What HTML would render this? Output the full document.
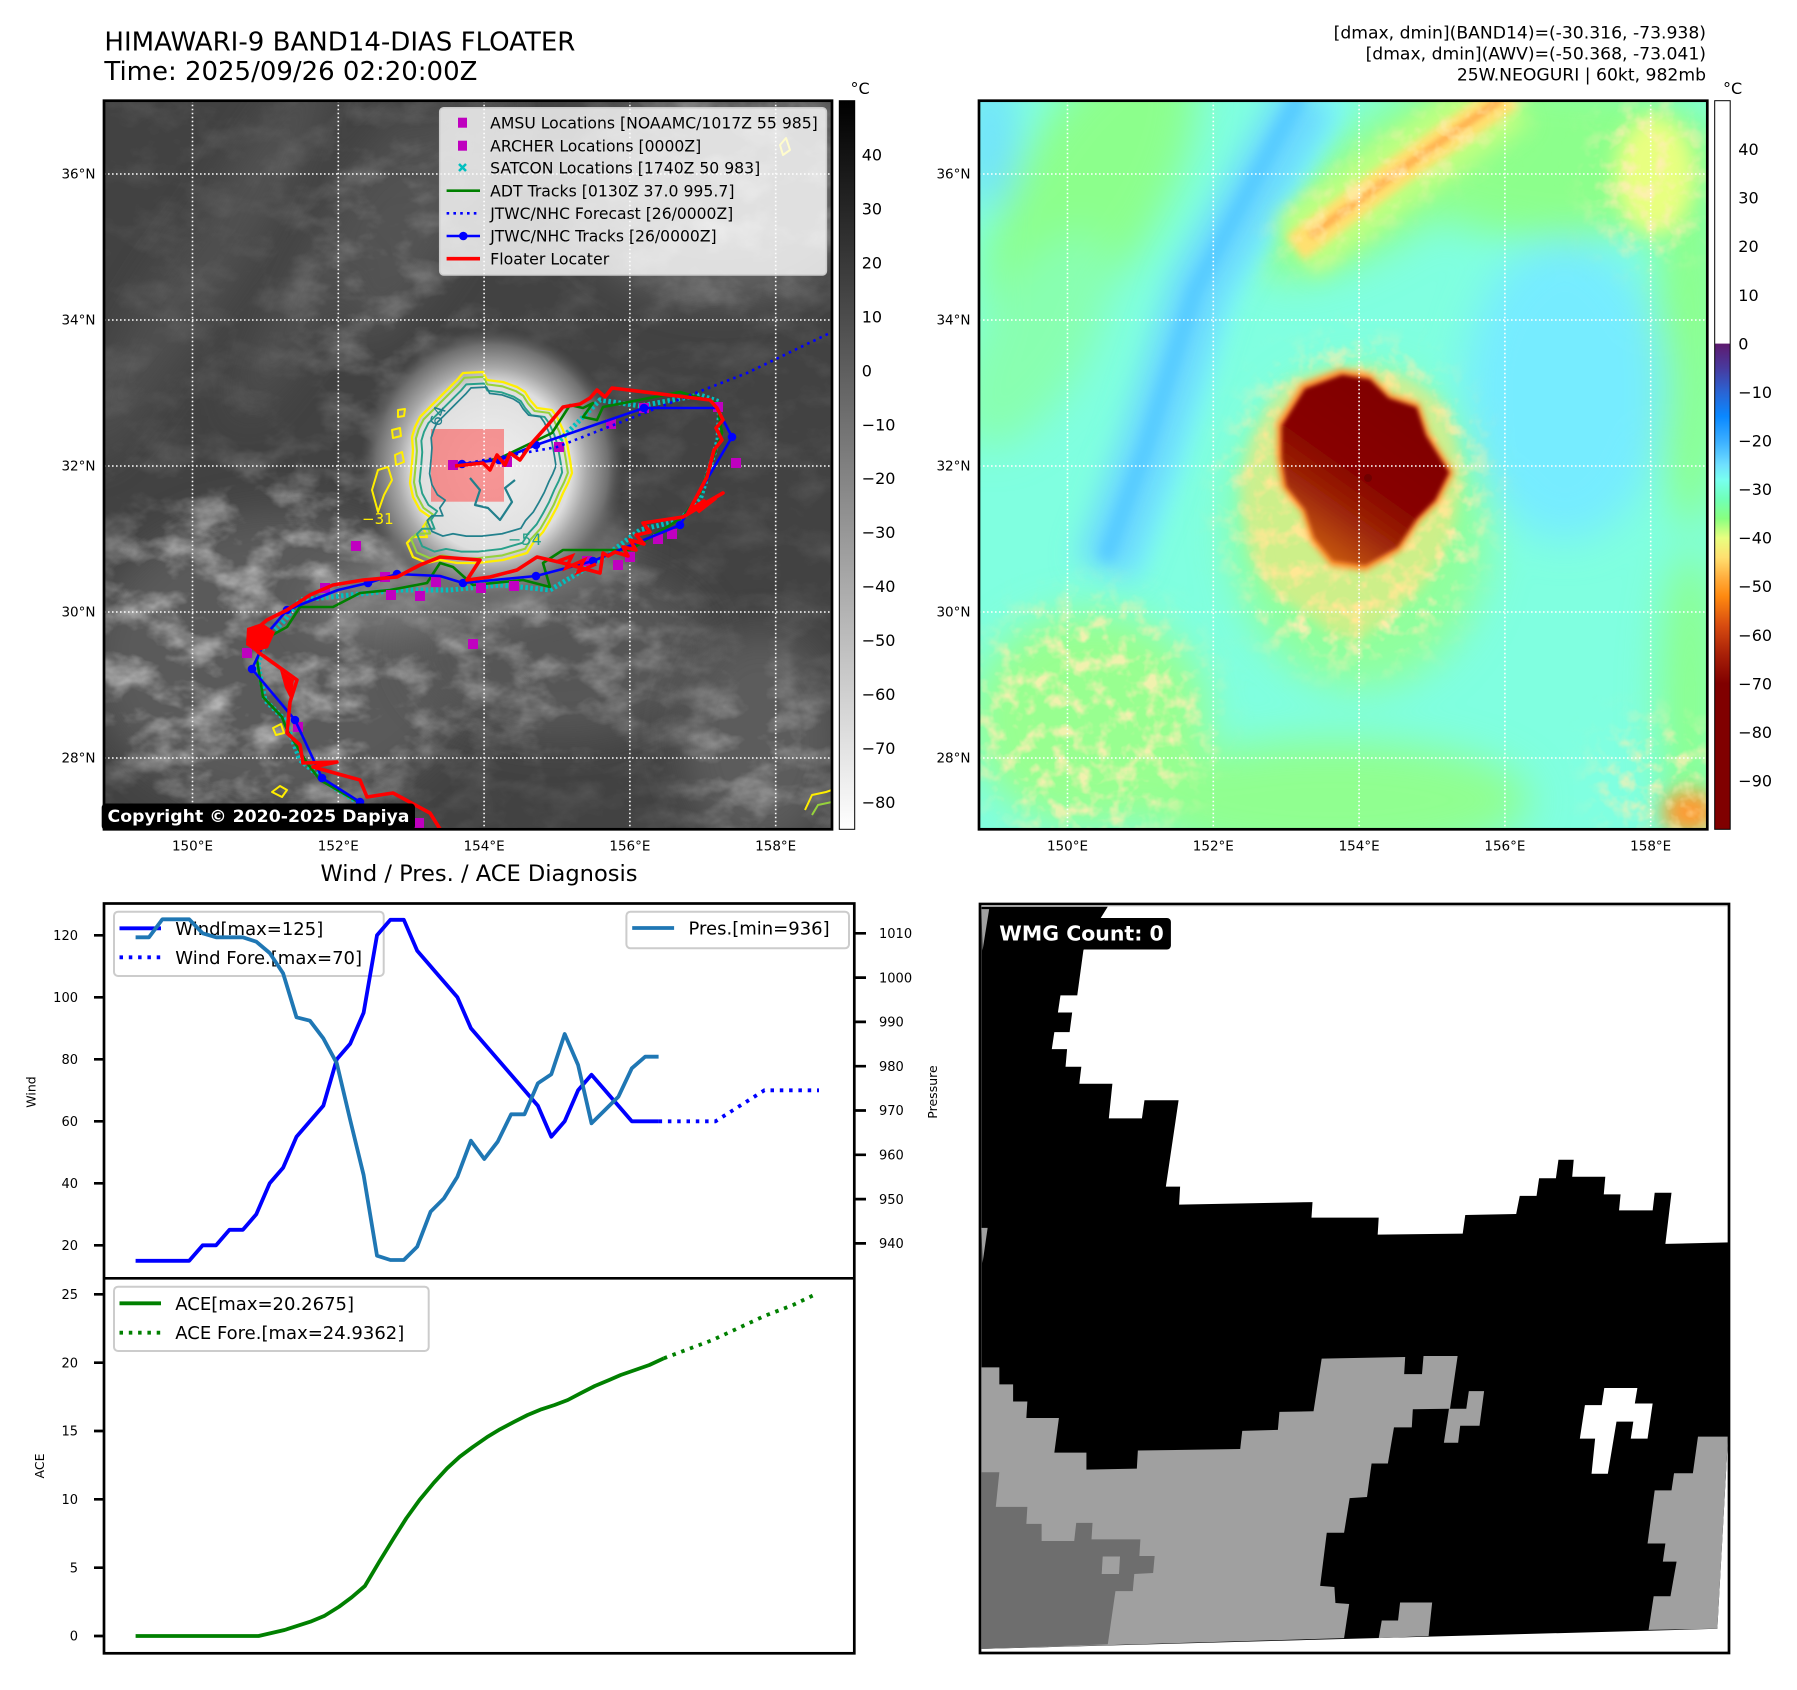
<!DOCTYPE html>
<html><head><meta charset="utf-8">
<style>
html,body{margin:0;padding:0;background:#fff;}
svg{display:block;}
text{font-family:"DejaVu Sans","Liberation Sans",sans-serif;fill:#000;}
</style></head>
<body>
<svg width="1797" height="1690" viewBox="0 0 1797 1690" xmlns="http://www.w3.org/2000/svg">
<defs>
 <clipPath id="cL"><rect x="104" y="100.7" width="728" height="728.6"/></clipPath>
 <clipPath id="cR"><rect x="979" y="100.7" width="728.3" height="728.6"/></clipPath>
 <filter id="b2" x="-50%" y="-50%" width="200%" height="200%"><feGaussianBlur stdDeviation="2"/></filter>
 <filter id="b3" x="-50%" y="-50%" width="200%" height="200%"><feGaussianBlur stdDeviation="3"/></filter>
 <filter id="b4" x="-50%" y="-50%" width="200%" height="200%"><feGaussianBlur stdDeviation="4"/></filter>
 <filter id="b6" x="-50%" y="-50%" width="200%" height="200%"><feGaussianBlur stdDeviation="6"/></filter>
 <filter id="b10" x="-50%" y="-50%" width="200%" height="200%"><feGaussianBlur stdDeviation="10"/></filter>
 <filter id="b14" x="-50%" y="-50%" width="200%" height="200%"><feGaussianBlur stdDeviation="14"/></filter>
 <filter id="b20" x="-50%" y="-50%" width="200%" height="200%"><feGaussianBlur stdDeviation="20"/></filter>
 <filter id="b30" x="-50%" y="-50%" width="200%" height="200%"><feGaussianBlur stdDeviation="30"/></filter>
 <filter id="nzL" filterUnits="userSpaceOnUse" x="104" y="100" width="728" height="730">
  <feTurbulence type="fractalNoise" baseFrequency="0.022 0.032" numOctaves="4" seed="11"/>
  <feColorMatrix type="matrix" values="0 0 0 0 0.72  0 0 0 0 0.72  0 0 0 0 0.72  1.6 0 0 0 -0.68"/>
 </filter>
 <filter id="nzR" filterUnits="userSpaceOnUse" x="979" y="100" width="729" height="730">
  <feTurbulence type="fractalNoise" baseFrequency="0.055" numOctaves="3" seed="5"/>
  <feColorMatrix type="matrix" values="0 0 0 0 1  0 0 0 0 0.86  0 0 0 0 0.45  3.2 0 0 0 -1.45"/>
 </filter>
 <mask id="mkL" maskUnits="userSpaceOnUse" x="104" y="100" width="728" height="730">
  <rect x="104" y="100" width="728" height="730" fill="#262626"/>
  <g filter="url(#b30)">
   <ellipse cx="270" cy="650" rx="190" ry="170" fill="#fff"/>
   <ellipse cx="520" cy="640" rx="160" ry="100" fill="#bbb"/>
   <ellipse cx="720" cy="180" rx="140" ry="100" fill="#999"/>
   <ellipse cx="760" cy="760" rx="80" ry="90" fill="#bbb"/>
   <ellipse cx="380" cy="300" rx="80" ry="160" fill="#666"/>
  </g>
 </mask>
 <mask id="mkR" maskUnits="userSpaceOnUse" x="979" y="100" width="729" height="730">
  <g filter="url(#b20)">
   <ellipse cx="1356" cy="500" rx="125" ry="150" fill="#fff"/>
   <ellipse cx="1350" cy="610" rx="90" ry="50" fill="#fff"/>
   <ellipse cx="1090" cy="720" rx="120" ry="120" fill="#ddd"/>
   <ellipse cx="1660" cy="780" rx="60" ry="60" fill="#ccc"/>
   <ellipse cx="1400" cy="170" rx="150" ry="25" transform="rotate(-35 1400 170)" fill="#ddd"/>
   <ellipse cx="1650" cy="180" rx="55" ry="80" fill="#ddd"/>
  </g>
 </mask>
 <linearGradient id="gGray" x1="0" y1="0" x2="0" y2="1">
  <stop offset="0" stop-color="#000"/><stop offset="1" stop-color="#fff"/>
 </linearGradient>
 <linearGradient id="gAWV" x1="0" y1="0" x2="0" y2="1">
  <stop offset="0" stop-color="#5e1a6e"/>
  <stop offset="0.05" stop-color="#483a9e"/>
  <stop offset="0.10" stop-color="#2a64d4"/>
  <stop offset="0.15" stop-color="#0a88ff"/>
  <stop offset="0.20" stop-color="#3aaeff"/>
  <stop offset="0.25" stop-color="#70e0ff"/>
  <stop offset="0.28" stop-color="#78fff0"/>
  <stop offset="0.32" stop-color="#70ffb8"/>
  <stop offset="0.36" stop-color="#88ff80"/>
  <stop offset="0.40" stop-color="#e8ff80"/>
  <stop offset="0.44" stop-color="#ffe070"/>
  <stop offset="0.48" stop-color="#ffb040"/>
  <stop offset="0.52" stop-color="#ff8a10"/>
  <stop offset="0.58" stop-color="#d84c10"/>
  <stop offset="0.64" stop-color="#a82008"/>
  <stop offset="0.70" stop-color="#800000"/>
  <stop offset="1" stop-color="#800000"/>
 </linearGradient>
 <radialGradient id="gStorm" cx="0.5" cy="0.5" r="0.5">
  <stop offset="0" stop-color="#f0f0f0"/>
  <stop offset="0.6" stop-color="#dedede"/>
  <stop offset="0.72" stop-color="#a8a8a8"/>
  <stop offset="0.88" stop-color="#707070"/>
  <stop offset="1" stop-color="#555" stop-opacity="0"/>
 </radialGradient>
 <linearGradient id="gCore" x1="0.75" y1="0.15" x2="0.25" y2="0.95">
  <stop offset="0" stop-color="#800000"/>
  <stop offset="0.5" stop-color="#880400"/>
  <stop offset="0.75" stop-color="#a02a08"/>
  <stop offset="1" stop-color="#c85a10"/>
 </linearGradient>
</defs>

<!-- ===== Titles ===== -->
<text x="104.4" y="50.7" font-size="25.7" textLength="471" lengthAdjust="spacingAndGlyphs">HIMAWARI-9 BAND14-DIAS FLOATER</text>
<text x="104.4" y="80" font-size="25.7" textLength="373" lengthAdjust="spacingAndGlyphs">Time: 2025/09/26 02:20:00Z</text>
<text x="1706" y="38.5" font-size="17.2" text-anchor="end">[dmax, dmin](BAND14)=(-30.316, -73.938)</text>
<text x="1706" y="59.5" font-size="17.2" text-anchor="end">[dmax, dmin](AWV)=(-50.368, -73.041)</text>
<text x="1706" y="80.5" font-size="17.2" text-anchor="end">25W.NEOGURI | 60kt, 982mb</text>

<!-- ===== Left map (IR) ===== -->
<g clip-path="url(#cL)">
 <rect x="104" y="100.7" width="728" height="728.6" fill="#424242"/>
 <g filter="url(#b20)" opacity="0.7">
  <ellipse cx="230" cy="230" rx="30" ry="200" transform="rotate(30 230 230)" fill="#5a5a5a"/>
  <ellipse cx="330" cy="260" rx="25" ry="180" transform="rotate(30 330 260)" fill="#585858"/>
  <ellipse cx="430" cy="210" rx="40" ry="150" transform="rotate(30 430 210)" fill="#5c5c5c"/>
  <ellipse cx="160" cy="330" rx="30" ry="150" transform="rotate(30 160 330)" fill="#545454"/>
 </g>
 <ellipse cx="720" cy="190" rx="150" ry="110" fill="#646464" filter="url(#b20)"/>
 <ellipse cx="280" cy="660" rx="190" ry="150" fill="#5a5a5a" filter="url(#b20)"/>
 <ellipse cx="560" cy="650" rx="150" ry="90" fill="#565656" filter="url(#b20)"/>
 <ellipse cx="760" cy="740" rx="80" ry="110" fill="#5c5c5c" filter="url(#b20)"/>
 <rect x="104" y="100" width="728" height="730" filter="url(#nzL)" mask="url(#mkL)"/>
 <ellipse cx="470" cy="578" rx="165" ry="40" transform="rotate(-12 470 578)" fill="#888" filter="url(#b20)" opacity="0.7"/>
 <ellipse cx="492" cy="468" rx="132" ry="140" fill="url(#gStorm)"/>
 <!-- floater rect -->
 <rect x="431" y="429" width="73" height="72.7" fill="#ff3c3c" fill-opacity="0.5"/>
 <!-- contours -->
 <g fill="none" stroke-linejoin="round">
  <path d="M463,373 L483,372 L487,380 L503,382 L517,387 L525,392 L530,400 L537,408 L552,410 L557,417 L563,430 L567,443 L570,460 L572,473 L568,483 L563,493 L557,507 L550,520 L543,532 L533,543 L527,553 L503,560 L477,563 L457,563 L440,560 L427,563 L413,557 L407,543 L413,537 L427,537 L423,527 L430,517 L420,510 L413,497 L410,483 L412,463 L413,450 L412,437 L415,427 L420,417 L430,407 L440,397 L450,387 L457,380 Z" stroke="#ffee00" stroke-width="2.3"/>
  <g transform="translate(490 468) scale(0.95) translate(-490 -468)"><path d="M463,373 L483,372 L487,380 L503,382 L517,387 L525,392 L530,400 L537,408 L552,410 L557,417 L563,430 L567,443 L570,460 L572,473 L568,483 L563,493 L557,507 L550,520 L543,532 L533,543 L527,553 L503,560 L477,563 L457,563 L440,560 L427,563 L413,557 L407,543 L413,537 L427,537 L423,527 L430,517 L420,510 L413,497 L410,483 L412,463 L413,450 L412,437 L415,427 L420,417 L430,407 L440,397 L450,387 L457,380 Z" stroke="#96d23c" stroke-width="2.2"/></g>
  <g transform="translate(490 468) scale(0.88) translate(-490 -468)"><path d="M463,373 L483,372 L487,380 L503,382 L517,387 L525,392 L530,400 L537,408 L552,410 L557,417 L563,430 L567,443 L570,460 L572,473 L568,483 L563,493 L557,507 L550,520 L543,532 L533,543 L527,553 L503,560 L477,563 L457,563 L440,560 L427,563 L413,557 L407,543 L413,537 L427,537 L423,527 L430,517 L420,510 L413,497 L410,483 L412,463 L413,450 L412,437 L415,427 L420,417 L430,407 L440,397 L450,387 L457,380 Z" stroke="#28a08a" stroke-width="2.2"/></g>
  <g transform="translate(492 462) scale(0.78) translate(-490 -468)"><path d="M463,373 L483,372 L487,380 L503,382 L517,387 L525,392 L530,400 L537,408 L552,410 L557,417 L563,430 L567,443 L570,460 L572,473 L568,483 L563,493 L557,507 L550,520 L543,532 L533,543 L527,553 L503,560 L477,563 L457,563 L440,560 L427,563 L413,557 L407,543 L413,537 L427,537 L423,527 L430,517 L420,510 L413,497 L410,483 L412,463 L413,450 L412,437 L415,427 L420,417 L430,407 L440,397 L450,387 L457,380 Z" stroke="#22808c" stroke-width="2.2"/></g>
  <path d="M470,478 L480,490 L475,505 L488,508 L500,520 L512,502 L505,488 L515,480" stroke="#22808c" stroke-width="2.2"/>
  <path d="M378,470 L388,467 L392,480 L384,495 L378,512 L372,490 Z" stroke="#ffee00" stroke-width="2"/>
  <path d="M395,455 L402,452 L404,462 L396,465 Z M392,430 L400,428 L401,436 L393,438 Z M398,410 L405,409 L404,416 L398,417 Z" stroke="#ffee00" stroke-width="2"/>
  <path d="M780,145 L786,138 L790,150 L783,155 Z" stroke="#ffee00" stroke-width="2"/>
  <path d="M805,810 L812,795 L826,792 L832,790" stroke="#ffee00" stroke-width="2"/>
  <path d="M812,815 L818,805 L832,802" stroke="#96d23c" stroke-width="2"/>
  <path d="M272,792 L280,786 L287,790 L282,797 Z" stroke="#ffee00" stroke-width="2"/>
  <path d="M273,728 L281,724 L284,733 L276,735 Z" stroke="#ffee00" stroke-width="2"/>
 </g>
 <text x="508" y="545" font-size="16" style="fill:#28a08a">−54</text>
 <text x="0" y="0" font-size="16" style="fill:#22808c" transform="translate(436 440) rotate(-72)">−64</text>
 <text x="362" y="524" font-size="15" style="fill:#ffee00">−31</text>
 <!-- grid -->
 <g stroke="#fff" stroke-width="1.6" stroke-dasharray="1.6 2.4" fill="none">
  <path d="M192.5,100.7V829.3M338.3,100.7V829.3M484.1,100.7V829.3M629.9,100.7V829.3M775.7,100.7V829.3"/>
  <path d="M104,174H832M104,320H832M104,466H832M104,612H832M104,758H832"/>
 </g>
 <!-- SATCON cyan -->
 <path d="M560,440 L600,400 L640,406 L700,395 L720,402 L718,440 L700,500 L680,520 L640,530 L600,560 L550,590 L500,585 L450,590 L400,590 L350,595 L300,600 L285,620 L265,640 L258,665 L265,700 L285,720 L300,760 L330,785 L370,810 L400,829" fill="none" stroke="#00c0c0" stroke-width="5" stroke-dasharray="2.5 2.5"/>
 <!-- ADT green -->
 <path d="M462,466 L500,458 L552,433 L570,405 L583,408 L593,403 L583,417 L597,420 L603,407 L680,392 L697,397 L717,403 L722,433 L700,493 L683,517 L630,550 L563,550 L543,563 L550,587 L523,580 L473,585 L453,567 L440,563 L427,583 L390,590 L360,593 L333,607 L300,607 L287,627 L263,640 L257,660 L263,697 L282,717 L287,730 L307,763 L320,780 L360,803 L390,829" fill="none" stroke="#008000" stroke-width="2.6" stroke-linejoin="round"/>
 <!-- magenta squares -->
 <g fill="#c000c0">
  <rect x="448" y="460" width="10" height="10"/><rect x="502" y="457" width="10" height="10"/>
  <rect x="554" y="442" width="10" height="10"/><rect x="606" y="419" width="10" height="10"/>
  <rect x="639" y="403" width="10" height="10"/><rect x="713" y="402" width="10" height="10"/>
  <rect x="731" y="458" width="10" height="10"/><rect x="667" y="529" width="10" height="10"/>
  <rect x="653" y="534" width="10" height="10"/><rect x="625" y="552" width="10" height="10"/>
  <rect x="613" y="560" width="10" height="10"/><rect x="582" y="556" width="10" height="10"/>
  <rect x="509" y="581" width="10" height="10"/><rect x="476" y="583" width="10" height="10"/>
  <rect x="431" y="577" width="10" height="10"/><rect x="415" y="591" width="10" height="10"/>
  <rect x="386" y="590" width="10" height="10"/><rect x="380" y="572" width="10" height="10"/>
  <rect x="351" y="541" width="10" height="10"/><rect x="320" y="583" width="10" height="10"/>
  <rect x="242" y="648" width="10" height="10"/><rect x="293" y="722" width="10" height="10"/>
  <rect x="468" y="639" width="10" height="10"/><rect x="414" y="818" width="10" height="10"/>
 </g>
 <!-- JTWC forecast dotted -->
 <path d="M462,464 L557,447 L747,373 L832,332" fill="none" stroke="#0000ff" stroke-width="2.6" stroke-dasharray="2.6 4.2"/>
 <!-- JTWC tracks -->
 <path d="M462,464 L499,460 L536,445 L644,408 L717,408 L732,437 L680,525 L593,561 L536,576 L463,583 L440,576 L397,574 L368,583 L338,590 L287,610 L270,630 L252,669 L295,720 L322,778 L360,802 L395,829" fill="none" stroke="#0000ff" stroke-width="2.6" stroke-linejoin="round"/>
 <g fill="#0000ff">
  <circle cx="462" cy="464" r="4.3"/><circle cx="499" cy="460" r="4.3"/><circle cx="536" cy="445" r="4.3"/>
  <circle cx="644" cy="408" r="4.3"/><circle cx="732" cy="437" r="4.3"/><circle cx="680" cy="525" r="4.3"/>
  <circle cx="593" cy="561" r="4.3"/><circle cx="536" cy="576" r="4.3"/><circle cx="463" cy="583" r="4.3"/>
  <circle cx="397" cy="574" r="4.3"/><circle cx="368" cy="583" r="4.3"/><circle cx="287" cy="610" r="4.3"/>
  <circle cx="252" cy="669" r="4.3"/><circle cx="295" cy="720" r="4.3"/><circle cx="322" cy="778" r="4.3"/>
  <circle cx="360" cy="802" r="4.3"/>
 </g>
 <!-- Floater locater red -->
 <path d="M455,466 L483,463 L490,470 L497,455 L505,465 L510,453 L520,460 L531,444 L548,425 L563,407 L580,404 L590,398 L597,390 L605,397 L612,388 L710,400 L717,408 L723,420 L716,428 L722,440 L714,450 L707,477 L688,513 L723,493 L683,517 L643,523 L650,532 L636,535 L644,544 L630,540 L636,550 L623,547 L628,556 L615,552 L608,556 L603,553 L600,573 L563,563 L537,557 L517,570 L490,577 L467,580 L480,560 L440,557 L420,565 L397,577 L363,580 L333,585 L310,595 L287,610 L267,620 L255,630 L248,640 L258,652 L297,680 L290,702 L287,733 L300,745 L303,763 L337,762 L313,767 L360,780 L367,797 L393,793 L430,813 L440,829" fill="none" stroke="#ff0000" stroke-width="3.6" stroke-linejoin="round"/>
 <path d="M556,562 L572,556 L566,568 L584,560 L578,572 L596,564" fill="none" stroke="#ff0000" stroke-width="3.4"/>
 <path d="M690,510 L705,500 L698,512 L716,498" fill="none" stroke="#ff0000" stroke-width="3.4"/>
 <g fill="#ff0000">
  <polygon points="247,628 262,623 275,632 268,648 256,652 246,645"/>
  <polygon points="280,670 294,680 291,700 285,688"/>
 </g>
</g>
<rect x="104" y="100.7" width="728" height="728.6" fill="none" stroke="#000" stroke-width="2.7"/>

<!-- Map legend -->
<rect x="439.7" y="107.7" width="386.7" height="167.3" rx="4" fill="#fff" fill-opacity="0.8" stroke="#cccccc" stroke-width="1.5"/>
<rect x="458" y="117.7" width="9" height="10" fill="#bf00bf"/>
<rect x="458" y="140.7" width="9" height="10" fill="#bf00bf"/>
<path d="M459,164 L466,171 M466,164 L459,171" stroke="#00bfbf" stroke-width="2.5"/>
<line x1="446.6" y1="190.7" x2="480" y2="190.7" stroke="#008000" stroke-width="2.6"/>
<line x1="446.6" y1="213.3" x2="480" y2="213.3" stroke="#0000ff" stroke-width="2.6" stroke-dasharray="2.6 4.2"/>
<line x1="446.6" y1="236" x2="480" y2="236" stroke="#0000ff" stroke-width="2.6"/>
<circle cx="463.3" cy="236" r="4.3" fill="#0000ff"/>
<line x1="446.6" y1="258.7" x2="480" y2="258.7" stroke="#ff0000" stroke-width="3.6"/>
<g font-size="15.6">
 <text x="490.2" y="128.3" textLength="327.6" lengthAdjust="spacingAndGlyphs">AMSU Locations [NOAAMC/1017Z 55 985]</text>
 <text x="490.2" y="151.3" textLength="211" lengthAdjust="spacingAndGlyphs">ARCHER Locations [0000Z]</text>
 <text x="490.2" y="173.3" textLength="270" lengthAdjust="spacingAndGlyphs">SATCON Locations [1740Z 50 983]</text>
 <text x="490.2" y="196.3" textLength="244.3" lengthAdjust="spacingAndGlyphs">ADT Tracks [0130Z 37.0 995.7]</text>
 <text x="490.2" y="218.9" textLength="243" lengthAdjust="spacingAndGlyphs">JTWC/NHC Forecast [26/0000Z]</text>
 <text x="490.2" y="241.6" textLength="226.4" lengthAdjust="spacingAndGlyphs">JTWC/NHC Tracks [26/0000Z]</text>
 <text x="490.2" y="264.3" textLength="119" lengthAdjust="spacingAndGlyphs">Floater Locater</text>
</g>

<!-- Copyright -->
<rect x="101.7" y="803.5" width="313.3" height="26.5" rx="4" fill="#000"/>
<text x="107.5" y="822" font-size="17" font-weight="bold" style="fill:#fff" textLength="302" lengthAdjust="spacingAndGlyphs">Copyright © 2020-2025 Dapiya</text>

<!-- Left colorbar -->
<rect x="839.3" y="100.7" width="15.4" height="728.6" fill="url(#gGray)" stroke="#000" stroke-width="1"/>
<text x="850.5" y="94" font-size="16">°C</text>
<g font-size="16">
 <text x="861.7" y="160.5">40</text>
 <text x="861.7" y="214.5">30</text>
 <text x="861.7" y="268.3">20</text>
 <text x="861.7" y="322.3">10</text>
 <text x="861.7" y="376.3">0</text>
 <text x="861.7" y="430.3">−10</text>
 <text x="861.7" y="484.2">−20</text>
 <text x="861.7" y="538.2">−30</text>
 <text x="861.7" y="592.2">−40</text>
 <text x="861.7" y="646.1">−50</text>
 <text x="861.7" y="700.1">−60</text>
 <text x="861.7" y="754.1">−70</text>
 <text x="861.7" y="808">−80</text>
</g>

<!-- Map axis labels -->
<g font-size="13.5" text-anchor="end">
 <text x="95.5" y="178.5">36°N</text><text x="95.5" y="324.5">34°N</text>
 <text x="95.5" y="470.5">32°N</text><text x="95.5" y="616.5">30°N</text><text x="95.5" y="762.5">28°N</text>
 <text x="970.5" y="178.5">36°N</text><text x="970.5" y="324.5">34°N</text>
 <text x="970.5" y="470.5">32°N</text><text x="970.5" y="616.5">30°N</text><text x="970.5" y="762.5">28°N</text>
</g>
<g font-size="13.5" text-anchor="middle">
 <text x="192.5" y="850.5">150°E</text><text x="338.3" y="850.5">152°E</text><text x="484.1" y="850.5">154°E</text>
 <text x="629.9" y="850.5">156°E</text><text x="775.7" y="850.5">158°E</text>
 <text x="1067.5" y="850.5">150°E</text><text x="1213.3" y="850.5">152°E</text><text x="1359.1" y="850.5">154°E</text>
 <text x="1504.9" y="850.5">156°E</text><text x="1650.7" y="850.5">158°E</text>
</g>

<!-- ===== Right map (AWV) ===== -->
<g clip-path="url(#cR)">
 <rect x="979" y="100.7" width="728.3" height="728.6" fill="#80ffe0"/>
 <g filter="url(#b20)">
  <ellipse cx="1090" cy="190" rx="75" ry="170" transform="rotate(30 1090 190)" fill="#8cff8c"/>
  <ellipse cx="1035" cy="340" rx="55" ry="120" transform="rotate(30 1035 340)" fill="#88ffb0"/>
  <ellipse cx="1560" cy="160" rx="170" ry="80" fill="#8cff8c"/>
  <ellipse cx="1690" cy="330" rx="35" ry="200" fill="#8cff8c"/>
  <ellipse cx="1400" cy="170" rx="170" ry="60" transform="rotate(-35 1400 170)" fill="#92ff8c"/>
  <ellipse cx="1330" cy="800" rx="200" ry="60" fill="#90ff90"/>
  <ellipse cx="1090" cy="720" rx="120" ry="110" fill="#98ff90"/>
  <ellipse cx="1690" cy="700" rx="30" ry="150" fill="#8cff8c"/>
  <ellipse cx="1360" cy="530" rx="130" ry="160" fill="#90ff9c"/>
  <ellipse cx="990" cy="140" rx="25" ry="70" fill="#70e0ff"/>
  <ellipse cx="1565" cy="390" rx="100" ry="150" fill="#76ecff"/>
 </g>
 <path d="M1335,95 L1228,286 L1175,449 L1130,570" stroke="#80fff0" stroke-width="30" fill="none" filter="url(#b10)"/>
 <path d="M1310,95 L1200,286 L1149,449 L1105,570" stroke="#6ad8ff" stroke-width="60" fill="none" filter="url(#b14)"/>
 <path d="M1300,95 L1195,290 L1145,450 L1105,560" stroke="#55caff" stroke-width="16" fill="none" filter="url(#b6)"/>
 <path d="M1510,95 L1400,170 L1295,248" stroke="#c0ff80" stroke-width="70" fill="none" filter="url(#b10)"/>
 <path d="M1510,95 L1400,170 L1295,248" stroke="#ffe070" stroke-width="30" fill="none" filter="url(#b4)"/>
 <path d="M1500,100 L1400,170 L1310,236" stroke="#ffb050" stroke-width="8" fill="none" filter="url(#b3)"/>
 <g filter="url(#b10)">
  <ellipse cx="1690" cy="812" rx="28" ry="22" fill="#ff9a30"/>
  <ellipse cx="1655" cy="175" rx="40" ry="60" fill="#e8ff80"/>
 </g>
 <rect x="979" y="100" width="729" height="730" filter="url(#nzR)" mask="url(#mkR)"/>
 <polygon points="1290,380 1330,368 1370,367 1410,378 1440,400 1455,440 1462,480 1455,520 1440,560 1420,590 1390,615 1360,640 1330,632 1300,610 1270,590 1252,560 1243,520 1240,480 1250,440 1268,405" fill="#ffe27a" opacity="0.55" filter="url(#b6)"/>
 <g transform="translate(1366 472) scale(1.06) translate(-1366 -472)">
  <polygon points="1281.6,425.9 1304.9,388.6 1342.1,374.7 1370,379.3 1388.7,398 1416.6,407.3 1425.9,435.2 1449.2,472.4 1435.2,500.4 1416.6,519 1398,547 1365.4,565.5 1332.8,560.9 1314.2,537.6 1304.9,509.7 1286.3,486.4 1281.6,458.5" fill="#ff9030" filter="url(#b3)"/>
 </g>
 <polygon points="1281.6,425.9 1304.9,388.6 1342.1,374.7 1370,379.3 1388.7,398 1416.6,407.3 1425.9,435.2 1449.2,472.4 1435.2,500.4 1416.6,519 1398,547 1365.4,565.5 1332.8,560.9 1314.2,537.6 1304.9,509.7 1286.3,486.4 1281.6,458.5" fill="url(#gCore)" filter="url(#b2)"/>
 <circle cx="1368" cy="478" r="4" fill="#700000"/>
 <g stroke="#fff" stroke-width="1.6" stroke-dasharray="1.6 2.4" fill="none">
  <path d="M1067.5,100.7V829.3M1213.3,100.7V829.3M1359.1,100.7V829.3M1504.9,100.7V829.3M1650.7,100.7V829.3"/>
  <path d="M979,174H1707.3M979,320H1707.3M979,466H1707.3M979,612H1707.3M979,758H1707.3"/>
 </g>
</g>
<rect x="979" y="100.7" width="728.3" height="728.6" fill="none" stroke="#000" stroke-width="2.7"/>

<!-- Right colorbar -->
<rect x="1714.7" y="100.7" width="15.5" height="242.9" fill="#fff"/>
<rect x="1714.7" y="343.6" width="15.5" height="485.7" fill="url(#gAWV)"/>
<rect x="1714.7" y="100.7" width="15.5" height="728.6" fill="none" stroke="#000" stroke-width="1"/>
<text x="1723" y="94" font-size="16">°C</text>
<g font-size="16">
 <text x="1738.3" y="155.1">40</text>
 <text x="1738.3" y="203.7">30</text>
 <text x="1738.3" y="252.2">20</text>
 <text x="1738.3" y="300.8">10</text>
 <text x="1738.3" y="349.4">0</text>
 <text x="1738.3" y="397.9">−10</text>
 <text x="1738.3" y="446.5">−20</text>
 <text x="1738.3" y="495.1">−30</text>
 <text x="1738.3" y="543.6">−40</text>
 <text x="1738.3" y="592.2">−50</text>
 <text x="1738.3" y="640.8">−60</text>
 <text x="1738.3" y="689.3">−70</text>
 <text x="1738.3" y="737.9">−80</text>
 <text x="1738.3" y="786.5">−90</text>
</g>

<!-- ===== Bottom-left chart ===== -->
<text x="479" y="881" font-size="22.4" text-anchor="middle" textLength="317" lengthAdjust="spacingAndGlyphs">Wind / Pres. / ACE Diagnosis</text>
<rect x="104" y="903.5" width="750.3" height="749.8" fill="#fff"/>

<rect x="114" y="911.7" width="269.7" height="64.3" rx="4" fill="#fff" fill-opacity="0.8" stroke="#cccccc" stroke-width="2"/>
<line x1="119.5" y1="928.3" x2="161" y2="928.3" stroke="#0000ff" stroke-width="3.8"/>
<line x1="119.5" y1="957.3" x2="161" y2="957.3" stroke="#0000ff" stroke-width="3.8" stroke-dasharray="3.5 5.8"/>
<text x="175.3" y="934.8" font-size="18">Wind[max=125]</text>
<text x="175.3" y="963.8" font-size="18">Wind Fore.[max=70]</text>

<polyline fill="none" stroke="#0000ff" stroke-width="3.8" stroke-linejoin="round" points="135.6,1260.8 149,1260.8 162.4,1260.8 175.8,1260.8 189.2,1260.8 202.7,1245.3 216.1,1245.3 229.5,1229.8 242.9,1229.8 256.3,1214.3 269.7,1183.3 283.1,1167.8 296.5,1136.8 309.9,1121.3 323.3,1105.8 336.8,1059.3 350.2,1043.8 363.6,1012.8 377,935.3 390.4,919.8 403.8,919.8 417.2,950.8 430.6,966.3 444,981.8 457.4,997.3 470.9,1028.3 484.3,1043.8 497.7,1059.3 511.1,1074.8 524.5,1090.3 537.9,1105.8 551.3,1136.8 564.7,1121.3 578.1,1090.3 591.5,1074.8 605,1090.3 618.4,1105.8 631.8,1121.3 645.2,1121.3 658.6,1121.3"/>
<polyline fill="none" stroke="#0000ff" stroke-width="3.8" stroke-dasharray="3.5 5.8" points="658.6,1121.3 715.5,1121.3 764.4,1090.3 819,1090.3"/>

<polyline fill="none" stroke="#1f77b4" stroke-width="3.8" stroke-linejoin="round" points="135.6,937.3 149,937.3 162.4,919.3 175.8,919.3 189.2,919.3 202.7,933.3 216.1,937.3 229.5,937.3 242.9,937.3 256.3,941.7 269.7,953 283.1,973.3 296.5,1017.3 309.9,1020.7 323.3,1038.3 336.8,1063.3 350.2,1120 363.6,1175 377,1255.7 390.4,1260 403.8,1260 417.2,1246.7 430.6,1211.7 444,1198.3 457.4,1176.7 470.9,1140.7 484.3,1159 497.7,1141.7 511.1,1114.3 524.5,1114.3 537.9,1083.3 551.3,1074.3 564.7,1034 578.1,1065 591.5,1123.3 605,1110 618.4,1096.7 631.8,1068.3 645.2,1056.7 658.6,1056.7"/>

<rect x="626.4" y="911.7" width="222.6" height="36.6" rx="4" fill="#fff" fill-opacity="0.8" stroke="#cccccc" stroke-width="2"/>
<line x1="632.2" y1="928" x2="674.1" y2="928" stroke="#1f77b4" stroke-width="3.8"/>
<text x="688.5" y="934.5" font-size="18">Pres.[min=936]</text>

<polyline fill="none" stroke="#008000" stroke-width="3.8" stroke-linejoin="round" points="135.6,1636 258.6,1636 284.5,1630 310.3,1621.7 324.7,1615.7 339.1,1606.7 351.7,1597.3 364.9,1586 379.3,1561.7 393.7,1538.3 406.3,1518.3 419.5,1500 433.9,1482.7 447.1,1468.3 459.8,1456.7 472.4,1447.3 486.8,1437.3 500,1429.3 514.4,1421.7 527.6,1415 541.4,1409.3 554.6,1405 567.8,1400 580.5,1393.3 594.8,1386 609.2,1380 620.7,1375 635.1,1370 649.4,1365 663.8,1358.3"/>
<polyline fill="none" stroke="#008000" stroke-width="3.8" stroke-dasharray="3.5 5.8" points="663.8,1358.3 712.6,1340 764.4,1316 793,1305 816.1,1294"/>
<rect x="114" y="1286.7" width="314.7" height="64.3" rx="4" fill="#fff" fill-opacity="0.8" stroke="#cccccc" stroke-width="2"/>
<line x1="119.5" y1="1303.3" x2="161" y2="1303.3" stroke="#008000" stroke-width="3.8"/>
<line x1="119.5" y1="1332.7" x2="161" y2="1332.7" stroke="#008000" stroke-width="3.8" stroke-dasharray="3.5 5.8"/>
<text x="175.3" y="1309.8" font-size="18">ACE[max=20.2675]</text>
<text x="175.3" y="1339.2" font-size="18">ACE Fore.[max=24.9362]</text>

<rect x="104" y="903.5" width="750.3" height="749.8" fill="none" stroke="#000" stroke-width="2.7"/>
<line x1="104" y1="1278.3" x2="854.3" y2="1278.3" stroke="#000" stroke-width="2.7"/>

<g stroke="#000" stroke-width="2.7">
 <path d="M94,935.3H104M94,997.3H104M94,1059.3H104M94,1121.3H104M94,1183.3H104M94,1245.3H104"/>
 <path d="M94,1294.3H104M94,1362.7H104M94,1431H104M94,1499.3H104M94,1567.7H104M94,1636H104"/>
 <path d="M854.3,933.3H866M854.3,977.6H866M854.3,1021.9H866M854.3,1066.2H866M854.3,1110.5H866M854.3,1154.8H866M854.3,1199.1H866M854.3,1243.4H866"/>
</g>
<g font-size="13" text-anchor="end">
 <text x="78" y="940">120</text><text x="78" y="1002">100</text><text x="78" y="1064">80</text>
 <text x="78" y="1126">60</text><text x="78" y="1188">40</text><text x="78" y="1250">20</text>
 <text x="78" y="1299">25</text><text x="78" y="1367.4">20</text><text x="78" y="1435.7">15</text>
 <text x="78" y="1504">10</text><text x="78" y="1572.4">5</text><text x="78" y="1640.7">0</text>
</g>
<g font-size="13">
 <text x="879" y="938">1010</text><text x="879" y="982.3">1000</text><text x="879" y="1026.6">990</text>
 <text x="879" y="1070.9">980</text><text x="879" y="1115.2">970</text><text x="879" y="1159.5">960</text>
 <text x="879" y="1203.8">950</text><text x="879" y="1248.1">940</text>
</g>
<text x="0" y="0" font-size="12.5" text-anchor="middle" transform="translate(35.5 1092) rotate(-90)">Wind</text>
<text x="0" y="0" font-size="12.5" text-anchor="middle" transform="translate(937 1092) rotate(-90)">Pressure</text>
<text x="0" y="0" font-size="12.5" text-anchor="middle" transform="translate(44 1466) rotate(-90)">ACE</text>

<!-- ===== Bottom-right WMG panel ===== -->
<rect x="980" y="904" width="749" height="749" fill="#fff"/>
<g transform="matrix(0.5092 0 0 0.5166 961.16 880.75)">
 <polygon fill="#000" points="40,50 1508,50 1506,1076 1485,1448 40,1487"/>
 <polygon fill="#fff" points="288,50 1508,50 1508,700 1383,703 1395,604 1362,604 1358,638 1292,638 1295,607 1262,607 1265,573 1200,573 1203,540 1173,540 1168,576 1135,576 1130,610 1097,610 1090,645 990,647 985,683 818,685 820,652 688,652 690,622 428,627 430,592 402,592 427,425 360,425 355,460 290,460 297,393 232,393 236,360 205,360 208,326 178,326 183,293 213,293 218,255 190,255 195,222 228,222 240,135 250,110"/>
 <polygon fill="#a0a0a0" points="40,942 75,942 75,975 102,975 102,1008 130,1008 128,1040 192,1040 183,1107 246,1107 246,1140 345,1138 347,1103 548,1100 552,1065 622,1063 625,1028 692,1027 708,925 872,922 870,955 905,955 908,920 975,920 960,1022 887,1023 885,1058 850,1058 838,1128 806,1128 797,1193 763,1195 752,1262 718,1262 705,1365 733,1367 735,1398 762,1400 752,1466 40,1487"/>
 <polygon fill="#a0a0a0" points="958,1022 992,1022 997,988 1027,988 1018,1055 980,1055 976,1088 948,1088"/>
 <polygon fill="#a0a0a0" points="820,1466 826,1432 858,1432 862,1397 925,1397 918,1462"/>
 <polygon fill="#a0a0a0" points="1350,1450 1360,1385 1393,1385 1405,1318 1378,1318 1383,1283 1348,1283 1362,1180 1395,1180 1400,1147 1437,1147 1447,1076 1506,1076 1485,1448"/>
 <polygon fill="#6e6e6e" points="40,1145 75,1145 68,1212 130,1212 128,1245 158,1245 158,1278 222,1278 226,1243 258,1243 256,1275 352,1275 350,1307 380,1307 377,1340 340,1342 337,1375 303,1375 288,1478 40,1487"/>
 <polygon fill="#a0a0a0" points="278,1308 312,1308 310,1342 276,1342"/>
 <polygon fill="#fff" points="1215,1080 1225,1015 1258,1015 1263,982 1328,982 1323,1012 1358,1012 1348,1080 1315,1080 1320,1047 1287,1047 1270,1148 1238,1148 1245,1080"/>
 <polygon fill="#a0a0a0" points="40,55 55,55 42,135"/>
 <polygon fill="#a0a0a0" points="40,672 52,672 42,740"/>
</g>
<rect x="991.7" y="918" width="179.2" height="31.5" rx="4" fill="#000"/>
<text x="999.3" y="940.3" font-size="20.5" font-weight="bold" style="fill:#fff" textLength="164.5" lengthAdjust="spacingAndGlyphs">WMG Count: 0</text>
<rect x="980" y="904" width="749" height="749" fill="none" stroke="#000" stroke-width="2.7"/>
</svg>
</body></html>
